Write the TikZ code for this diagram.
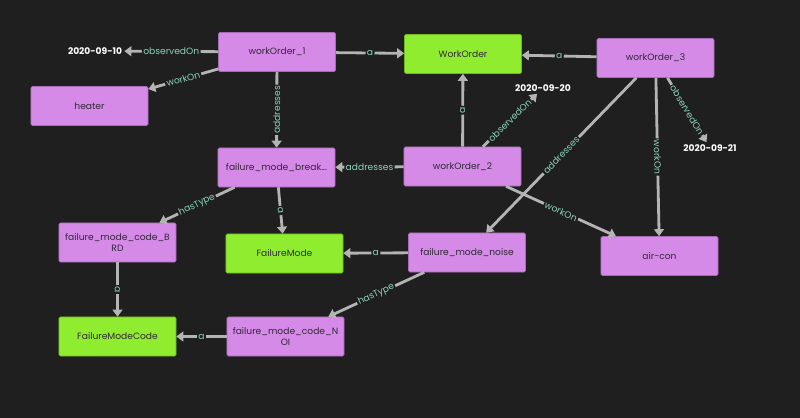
\documentclass[tikz,border=0pt]{standalone}
\usepackage{fontspec}
\setmainfont{Poppins}
\usetikzlibrary{arrows.meta}
\definecolor{bgc}{HTML}{1F1F1F}
\definecolor{inst}{HTML}{D48AE6}
\definecolor{instb}{HTML}{A86BB8}
\definecolor{cls}{HTML}{90EC2F}
\definecolor{clsb}{HTML}{6FB822}
\definecolor{edgec}{HTML}{B4B4B4}
\definecolor{lblc}{HTML}{8CD2BE}
\definecolor{txtc}{HTML}{33283A}
\tikzset{
  base/.style={rectangle, rounded corners=1pt, minimum width=2.925cm, minimum height=0.975cm,
    font=\fontsize{6.5}{8}\selectfont, text=txtc, align=center, line width=0.4pt},
  instnode/.style={base, fill=inst, draw=instb},
  clsnode/.style={base, fill=cls, draw=clsb},
  datenode/.style={font=\fontsize{6.5}{8}\selectfont\bfseries, text=white, inner sep=1.5pt},
  rel/.style={draw=edgec, line width=2pt, -{Triangle[length=5pt,width=7pt]}},
  lbl/.style={font=\fontsize{6.5}{8}\selectfont, text=lblc, fill=bgc, inner sep=1pt, sloped, midway}
}
\begin{document}
\begin{tikzpicture}[x=0.025cm, y=-0.025cm]
\fill[bgc] (0,0) rectangle (800,418);
\useasboundingbox (0,0) rectangle (800,418);

\node[instnode] (wo1) at (277,52) {workOrder\_1};
\node[clsnode] (WO) at (463,54) {WorkOrder};
\node[instnode] (wo3) at (655.5,58) {workOrder\_3};
\node[instnode] (heater) at (89.5,106) {heater};
\node[instnode] (fmb) at (276.5,167.5) {failure\_mode\_break...};
\node[instnode] (wo2) at (462.5,166.5) {workOrder\_2};
\node[instnode] (brd) at (117.5,242.5) {failure\_mode\_code\_B\\RD};
\node[clsnode] (FM) at (284.5,253.5) {FailureMode};
\node[instnode] (noise) at (467,252.5) {failure\_mode\_noise};
\node[instnode] (aircon) at (659.5,256) {air-con};
\node[clsnode] (FMC) at (117.5,336.5) {FailureModeCode};
\node[instnode] (noi) at (285.5,336.5) {failure\_mode\_code\_N\\OI};

\node[datenode] (d10) at (95,51) {2020-09-10};
\node[datenode] (d20) at (543,88) {2020-09-20};
\node[datenode] (d21) at (710,148) {2020-09-21};

\draw[rel] (wo1) -- node[lbl] {a} (WO);
\draw[rel] (wo1) -- node[lbl] {observedOn} (d10);
\draw[rel] (wo1) -- node[lbl] {workOn} (heater);
\draw[rel] (wo1) -- node[lbl] {addresses} (fmb);

\draw[rel] (wo3) -- node[lbl] {a} (WO);
\draw[rel] (wo3) -- node[lbl] {observedOn} (d21);
\draw[rel] (wo3) -- node[lbl] {workOn} (aircon);
\draw[rel] (wo3) -- node[lbl] {addresses} (noise);

\draw[rel] (wo2) -- node[lbl] {a} (WO);
\draw[rel] (wo2) -- node[lbl] {observedOn} (d20);
\draw[rel] (wo2) -- node[lbl] {addresses} (fmb);
\draw[rel] (wo2) -- node[lbl] {workOn} (aircon);

\draw[rel] (fmb) -- node[lbl] {hasType} (brd);
\draw[rel] (fmb) -- node[lbl] {a} (FM);
\draw[rel] (noise) -- node[lbl] {a} (FM);
\draw[rel] (noise) -- node[lbl] {hasType} (noi);
\draw[rel] (brd) -- node[lbl] {a} (FMC);
\draw[rel] (noi) -- node[lbl] {a} (FMC);
\end{tikzpicture}
\end{document}
